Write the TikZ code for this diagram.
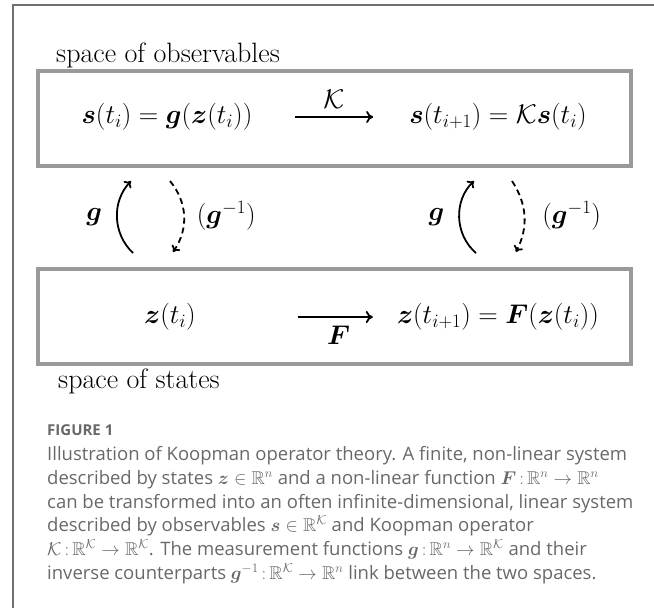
\RequirePackage{fix-cm}
\documentclass[tikz,border=0pt]{standalone}
\usepackage{amsmath,amssymb,bm}
\usepackage{fontspec}
\newfontfamily\capfont{Open Sans}
\usetikzlibrary{arrows.meta}

\definecolor{boxgray}{HTML}{9A9A9A}
\definecolor{framegray}{HTML}{707070}
\definecolor{capgray}{HTML}{686868}

\tikzset{
  spacebox/.style={draw=boxgray,line width=4pt},
  eqn/.style={font=\fontsize{27}{33}\selectfont,inner sep=0pt},
  spacename/.style={anchor=base west,font=\fontsize{28}{33}\selectfont,inner sep=0pt},
  maparrow/.style={-{To[length=7pt,width=12pt]},line width=1.8pt},
  gmap/.style={-{To[length=6pt,width=10pt]},line width=1.8pt},
  ginv/.style={gmap,dash pattern=on 6pt off 4pt},
  capline/.style={anchor=base west,inner sep=0pt,text=capgray,
    font=\capfont\fontsize{18.5}{22}\selectfont}
}

\begin{document}
\begin{tikzpicture}[x=1pt,y=-1pt]
\useasboundingbox (0,0) rectangle (654,608);

% cropped page frame
\draw[framegray,line width=1.3pt] (13,608) -- (13,5) -- (654,5);

% ======================= space of observables =======================
\node[spacename] (obsname) at (56,62) {space of observables};
\draw[spacebox] (38,71) rectangle (631,166);
\node[eqn] (si) at (167,117) {$\bm s(t_i)=\bm g(\bm z(t_i))$};
\node[eqn] (sj) at (498,117) {$\bm s(t_{i+1})=\mathcal K\bm s(t_i)$};
\draw[maparrow,shorten <=42pt,shorten >=36pt] (si) --
  node[eqn,pos=0.52,above=8pt] {$\mathcal K$} (sj);

% ======================= g and g^{-1} between the spaces =============
\coordinate (gLlo) at (133,253);  \coordinate (gLhi) at (131,181);
\coordinate (hLhi) at (170,181);  \coordinate (hLlo) at (173,252);
\coordinate (gRlo) at (476,253);  \coordinate (gRhi) at (474,181);
\coordinate (hRhi) at (512,181);  \coordinate (hRlo) at (516,252);
\draw[gmap] (gLlo) to[bend left=45] node[eqn,left=14pt] {$\bm g$} (gLhi);
\draw[ginv] (hLhi) to[bend left=37] node[eqn,right=12pt] {$(\bm g^{-1})$} (hLlo);
\draw[gmap] (gRlo) to[bend left=48] node[eqn,left=14pt] {$\bm g$} (gRhi);
\draw[ginv] (hRhi) to[bend left=30] node[eqn,right=17pt] {$(\bm g^{-1})$} (hRlo);

% ======================= space of states =============================
\draw[spacebox] (38,269) rectangle (631,364);
\node[eqn] (zi) at (170,317) {$\bm z(t_i)$};
\node[eqn] (zj) at (498,317) {$\bm z(t_{i+1})=\bm F(\bm z(t_i))$};
\draw[maparrow,shorten <=102pt,shorten >=24pt] (zi) --
  node[eqn,pos=0.71,below=8pt] {$\bm F$} (zj);
\node[spacename] (staname) at (58,388) {space of states};

% ======================= caption =====================================
\node[capline,font=\capfont\bfseries\fontsize{15}{18}\selectfont] (figno) at (47,435) {FIGURE 1};
\node[capline] (cap1) at (47,460) {Illustration of Koopman operator theory. A finite, non-linear system};
\node[capline] (cap2) at (47,484) {described by states $\bm z\in\mathbb R^n$ and a non-linear function $\bm F\,{:}\,\mathbb R^n\to\mathbb R^n$};
\node[capline] (cap3) at (47,508) {can be transformed into an often infinite-dimensional, linear system};
\node[capline] (cap4) at (47,531) {described by observables $\bm s\in\mathbb R^{\mathcal K}$ and Koopman operator};
\node[capline] (cap5) at (47,555) {$\mathcal K\,{:}\,\mathbb R^{\mathcal K}\to\mathbb R^{\mathcal K}$. The measurement functions $\bm g\,{:}\,\mathbb R^n\to\mathbb R^{\mathcal K}$ and their};
\node[capline] (cap6) at (47,579) {inverse counterparts $\bm g^{-1}\,{:}\,\mathbb R^{\mathcal K}\to\mathbb R^n$ link between the two spaces.};

\end{tikzpicture}
\end{document}
